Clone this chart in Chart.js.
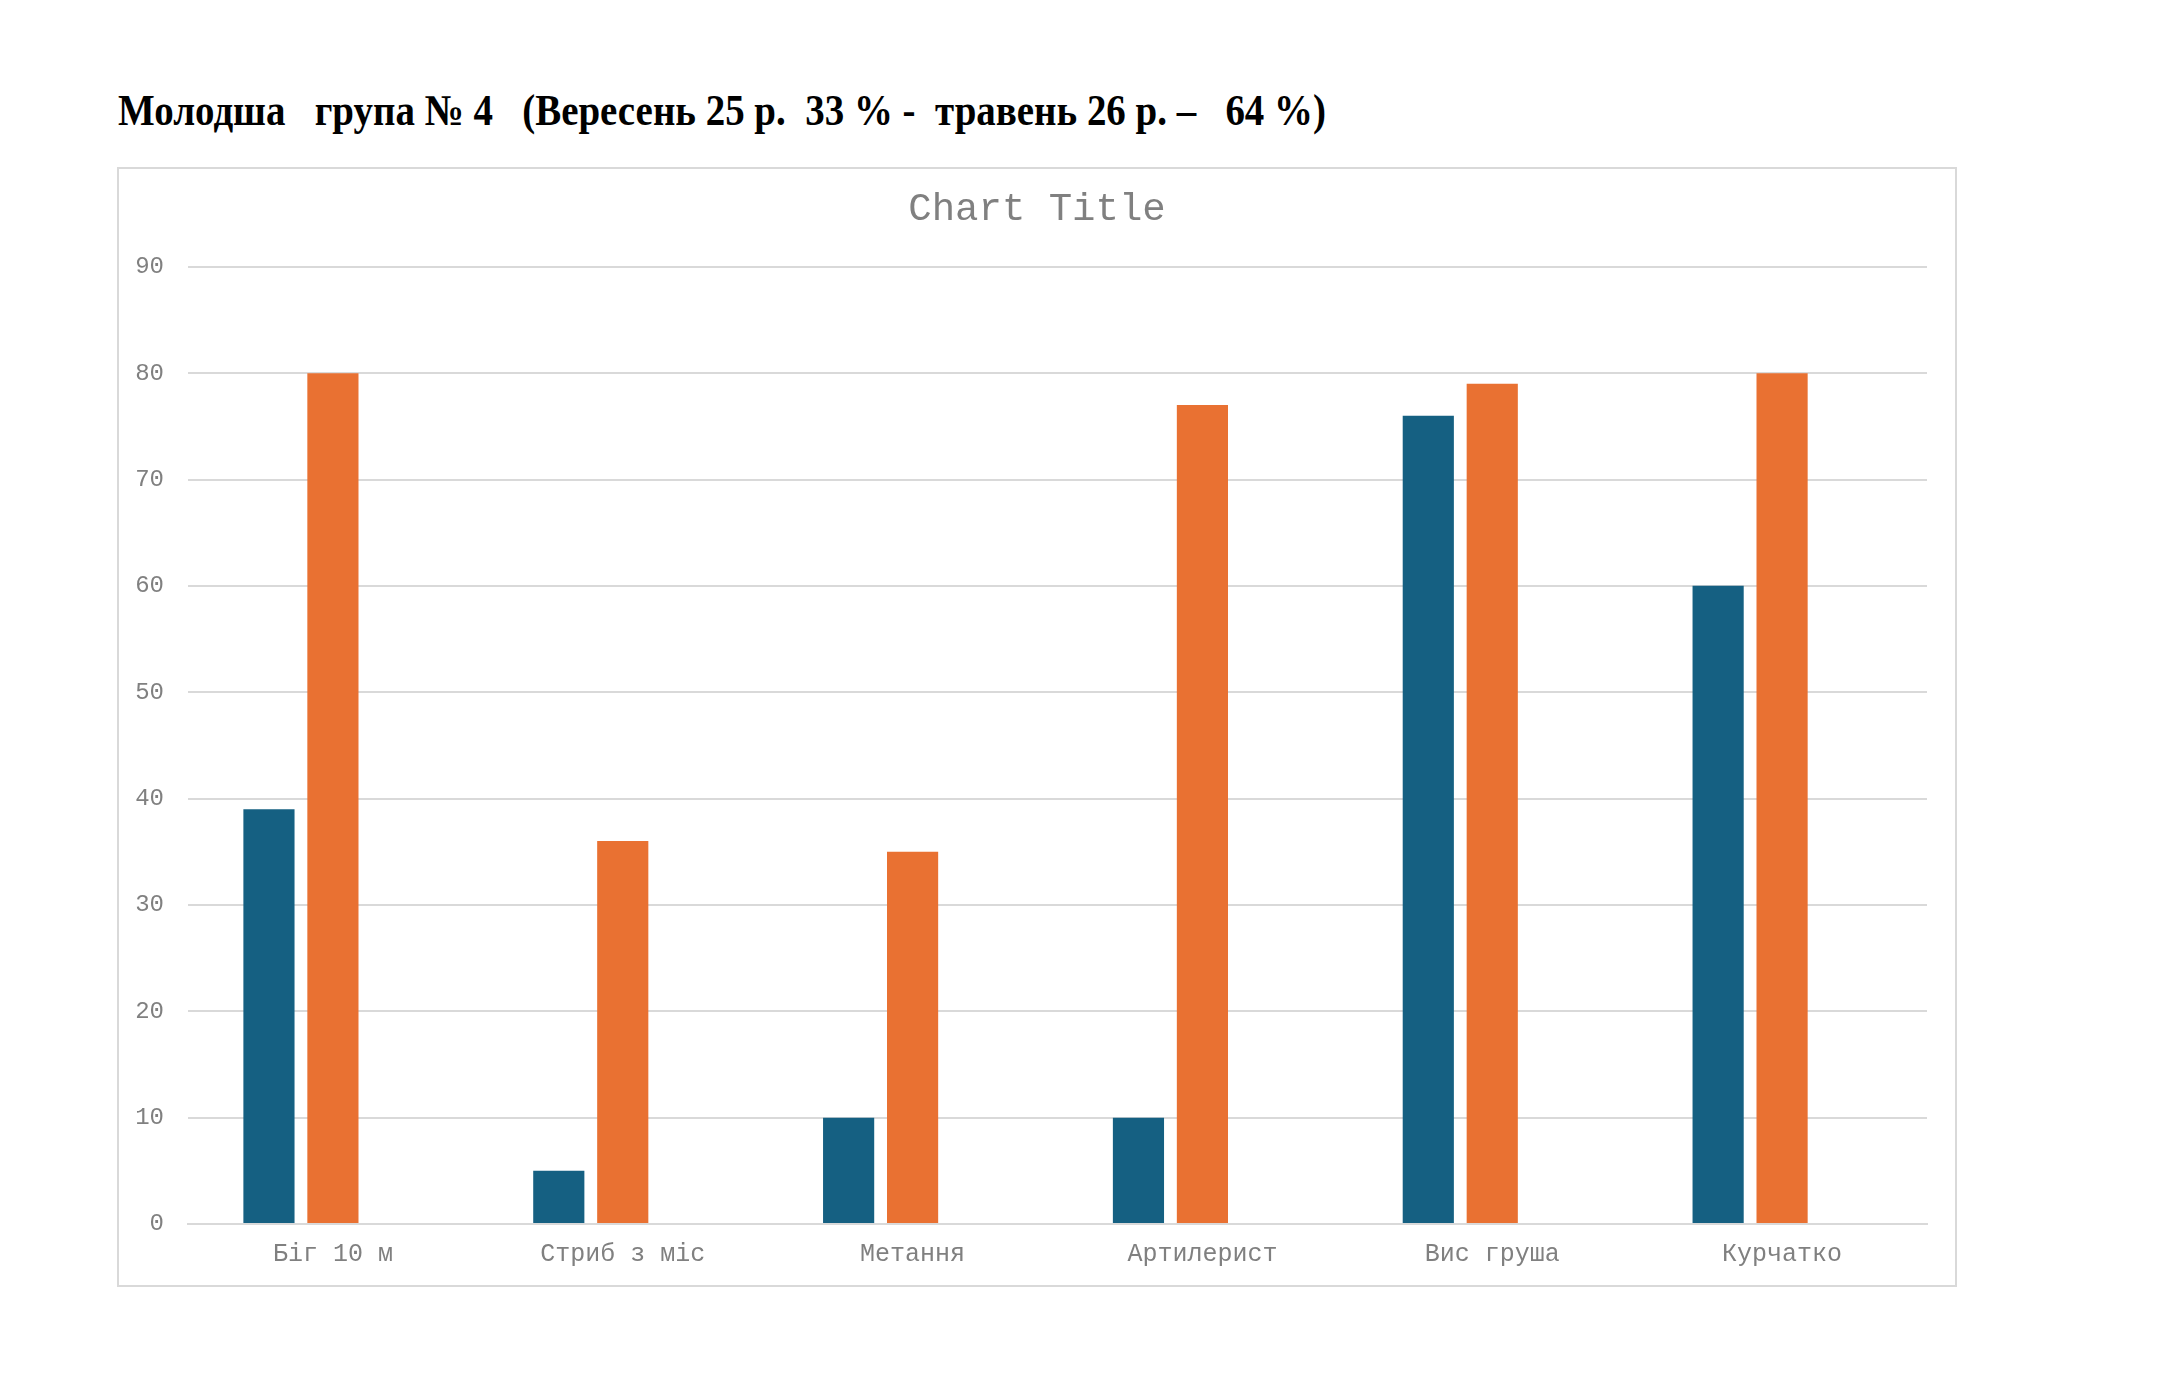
<!DOCTYPE html>
<html lang="uk">
<head>
<meta charset="UTF-8">
<title>Молодша група № 4</title>
<script src="https://cdn.jsdelivr.net/npm/chart.js"></script>
<style>
  html, body { margin: 0; padding: 0; background: #fff; }
  body { width: 2176px; height: 1390px; position: relative; overflow: hidden; }
  #header {
    position: absolute; left: 118px; top: 81px;
    font-family: "Liberation Serif", "Times New Roman", serif;
    font-weight: bold; font-size: 44px; line-height: 60px;
    white-space: pre; color: #000;
    transform-origin: 0 50%;
  }
  #chartBox {
    position: absolute; left: 117px; top: 167px;
    width: 1840px; height: 1120px;
    border: 2px solid #d9d9d9; box-sizing: border-box;
  }
</style>
</head>
<body>

<div id="header">Молодша   група № 4   (Вересень 25 р.  33 % -  травень 26 р. –   64 %)</div>
<div id="chartBox"><canvas id="chartContainer"></canvas></div>

<script>
// дані діаграми
const categories = ['Біг 10 м', 'Стриб з міс', 'Метання', 'Артилерист', 'Вис груша', 'Курчатко'];
const seriesNames = ['Вересень 25 р.', 'Травень 26 р.', 'Ряд 3'];
const september = [39, 5, 10, 10, 76, 60];
const may = [80, 36, 35, 77, 79, 80];
const series3 = [null, null, null, null, null, null];
const yTicks = [0, 10, 20, 30, 40, 50, 60, 70, 80, 90];

// підгонка ширини заголовка
const header = document.getElementById('header');
const natural = header.getBoundingClientRect().width;
header.style.transform = 'scaleX(' + (1208 / natural) + ')';

const MONO = '"Liberation Mono", "Courier New", monospace';
const RIGHT_PAD = 28;

// заголовок по центру всієї рамки, а не тільки області без відступу
const centerTitle = {
    id: 'centerTitle',
    afterLayout(chart) {
        if (chart.titleBlock) {
            chart.titleBlock.right += RIGHT_PAD;
            chart.titleBlock.width += RIGHT_PAD;
        }
    }
};

const ctx = document.getElementById('chartContainer');
window.myChart = new Chart(ctx, {
    type: 'bar',
    data: {
        labels: categories,
        datasets: [{
            label: seriesNames[0],
            data: september,
            backgroundColor: '#156082'
        }, {
            label: seriesNames[1],
            data: may,
            backgroundColor: '#E97132'
        }, {
            label: seriesNames[2],
            data: series3,
            backgroundColor: '#196B24'
        }]
    },
    plugins: [centerTitle],
    options: {
        responsive: true,
        maintainAspectRatio: false,
        animation: false,
        devicePixelRatio: 1,
        categoryPercentage: 0.662,
        barPercentage: 0.8,
        layout: { padding: { left: 0, right: RIGHT_PAD, top: 0, bottom: 0 } },
        plugins: {
            legend: { display: false },
            tooltip: { enabled: false },
            title: {
                display: true,
                text: 'Chart Title',
                color: '#808080',
                font: { family: MONO, size: 39, weight: 'normal' },
                padding: { top: 17, bottom: 34 }
            }
        },
        scales: {
            x: {
                grid: { display: false, drawTicks: false },
                border: { display: true, color: '#d9d9d9', width: 2 },
                ticks: {
                    color: '#808080',
                    font: { family: MONO, size: 25 },
                    padding: 15,
                    maxRotation: 0
                },
                afterFit: function(scale) { scale.height = 61; }
            },
            y: {
                min: 0,
                max: 90,
                afterBuildTicks: function(scale) {
                    scale.ticks = yTicks.map(v => ({ value: v }));
                },
                grid: { color: '#d9d9d9', lineWidth: 2, drawTicks: false },
                border: { display: false },
                ticks: {
                    color: '#808080',
                    font: { family: MONO, size: 24 },
                    padding: 24
                },
                afterFit: function(scale) { scale.width = 69; }
            }
        }
    }
});
</script>

</body>
</html>
